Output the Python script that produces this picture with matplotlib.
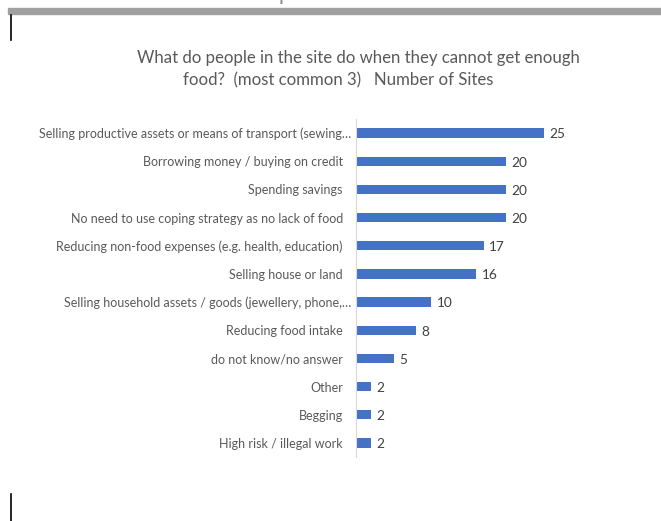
import matplotlib
matplotlib.use("Agg")
import matplotlib.pyplot as plt
from matplotlib.lines import Line2D
from matplotlib.patches import Rectangle
from matplotlib.transforms import ScaledTranslation

plt.rcParams['font.family'] = ['Lato', 'DejaVu Sans']

categories = [
    "Selling productive assets or means of transport (sewing\u2026",
    "Borrowing money / buying on credit",
    "Spending savings",
    "No need to use coping strategy as no lack of food",
    "Reducing non-food expenses (e.g. health, education)",
    "Selling house or land",
    "Selling household assets / goods (jewellery, phone,\u2026",
    "Reducing food intake",
    "do not know/no answer",
    "Other",
    "Begging",
    "High risk / illegal work",
]
values = [25, 20, 20, 20, 17, 16, 10, 8, 5, 2, 2, 2]
title_line1 = "What do people in the site do when they cannot get enough"
title_line2 = "food?  (most common 3)   Number of Sites"

W, H = 661, 521
fig = plt.figure(figsize=(W / 100, H / 100), dpi=100)
fig.patch.set_facecolor("white")

# page decorations (screenshot context)
fig.patches.append(Rectangle((8 / W, 1 - 13.5 / H), (W - 8) / W, 5 / H,
                             transform=fig.transFigure, color="#a0a0a0", zorder=1))
fig.lines.append(Line2D([11 / W, 11 / W], [1 - 15 / H, 1 - 40 / H],
                        transform=fig.transFigure, color="black", lw=1.2))
fig.lines.append(Line2D([11 / W, 11 / W], [1 - 494 / H, 0],
                        transform=fig.transFigure, color="black", lw=1.2))
fig.text(345 / W, 1 - 3.5 / H, "Example of Food Sources", ha="center", va="bottom",
         fontsize=15, color="#8a8a8a")

ax = fig.add_axes([356 / W, 1 - 457 / H, 225.6 / W, 338 / H])
y = list(range(len(categories)))
ax.barh(y, values, height=0.33, color="#4472C4")
ax.set_xlim(0, 30)
ax.set_ylim(len(categories) - 0.5, -0.5)
ax.set_yticks(y)
ax.set_yticklabels(categories, fontsize=9.0, color="#595959")
ax.tick_params(axis="y", length=0, pad=9.5)
ax.set_xticks([])
for s in ["top", "right", "bottom"]:
    ax.spines[s].set_visible(False)
ax.spines["left"].set_color("#d9d9d9")
ax.spines["left"].set_linewidth(0.8)

# truncated labels sit closer to the axis
for lab in ax.get_yticklabels():
    if lab.get_text().endswith("\u2026"):
        lab.set_transform(lab.get_transform() + ScaledTranslation(8.5 / 100, 0, fig.dpi_scale_trans))

for yi, v in zip(y, values):
    ax.text(v + 0.7, yi + 0.05, str(v), va="center", ha="left", fontsize=9.8, color="#404040")

fig.text(358 / W, 1 - 58 / H, title_line1, ha="center", va="center", fontsize=12.1, color="#595959")
fig.text(338 / W, 1 - 80 / H, title_line2, ha="center", va="center", fontsize=12.1, color="#595959")

fig.savefig("out.png", dpi=100, facecolor="white")
